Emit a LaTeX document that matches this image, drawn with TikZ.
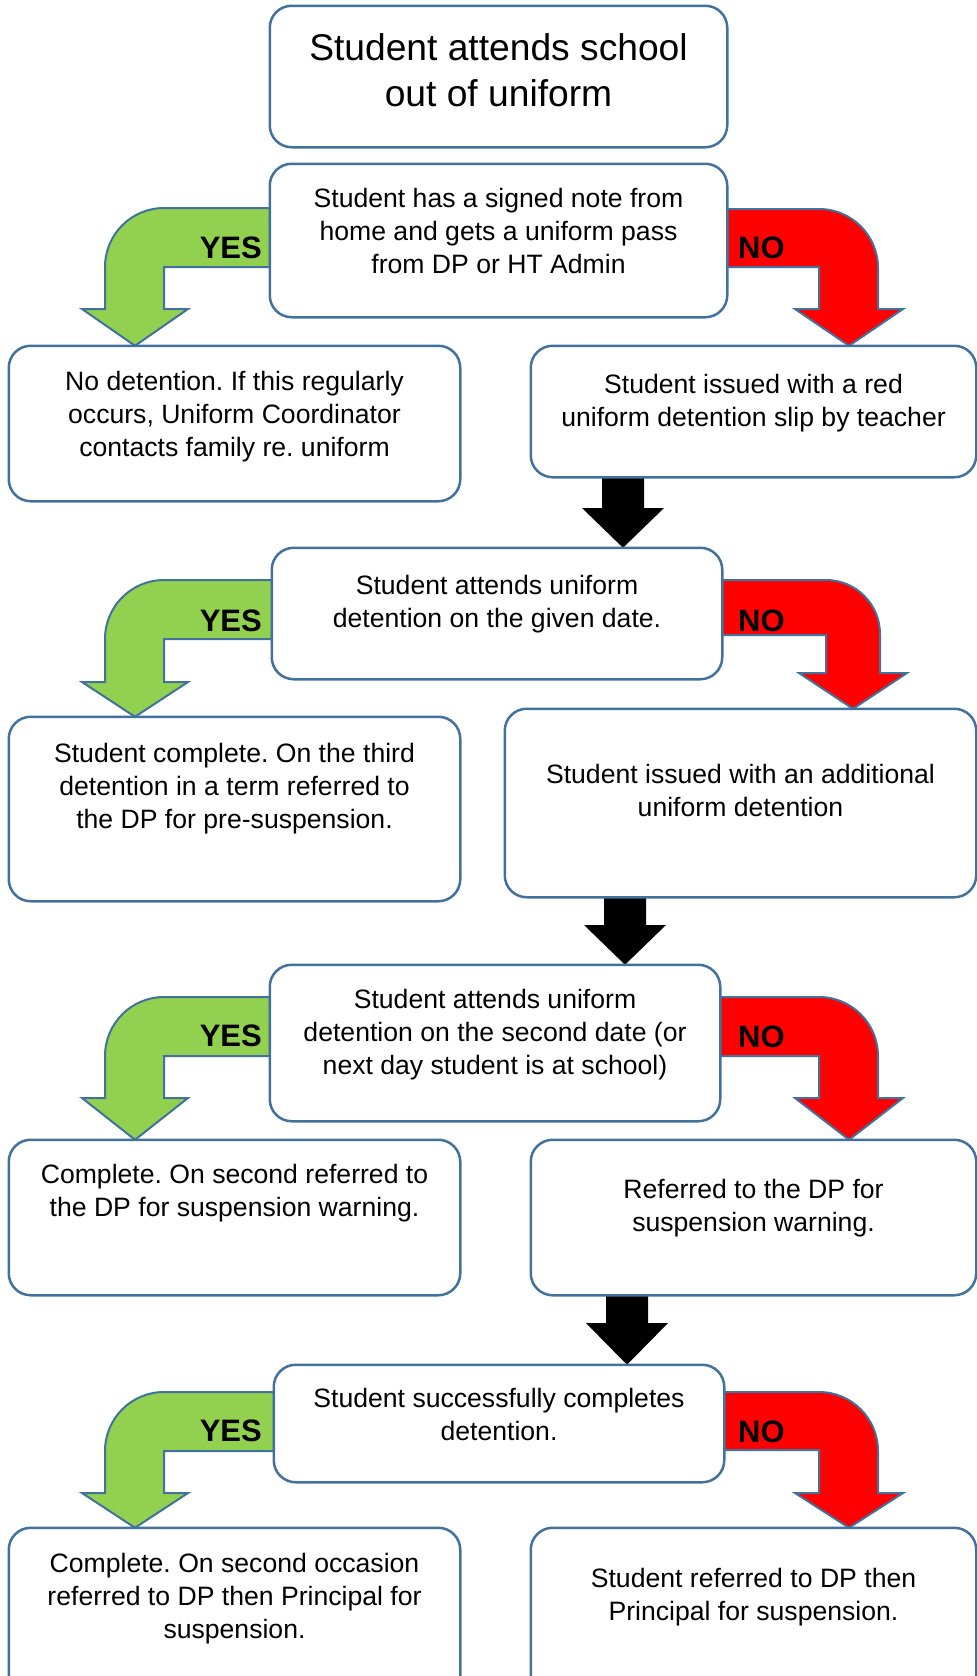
\documentclass[tikz,border=0pt]{standalone}
\usepackage{fontspec}
\setmainfont{Liberation Sans}
\frenchspacing
\definecolor{edge}{HTML}{41719C}
\definecolor{yesgreen}{HTML}{92D050}
\definecolor{nored}{HTML}{FF0000}
% #1 src, #2 dst, #3 band top, #4 band bottom, #5 head base, #6 inner x, #7 outer x, #8 tip x
\newcommand\yesarr[8]{%
  \draw[yesarrow] (#1.west |- 0,#3) -- (#6,#3)
    .. controls ({#6-0.5523*(#6-#7)},#3) and (#7,{#3+0.4477*(#6-#7)}) .. (#7,{#3+#6-#7})
    -- (#7,#5) -- ({#8-53},#5) -- (#8,0 |- #2.north) -- ({#8+53},#5) -- (#6,#5)
    -- (#6,#4) -- (#1.west |- 0,#4) -- cycle;}
\newcommand\noarr[8]{%
  \draw[noarrow] (#1.east |- 0,#3) -- (#6,#3)
    .. controls ({#6+0.5523*(#7-#6)},#3) and (#7,{#3+0.4477*(#7-#6)}) .. (#7,{#3+#7-#6})
    -- (#7,#5) -- ({#8+54},#5) -- (#8,0 |- #2.north) -- ({#8-54},#5) -- (#6,#5)
    -- (#6,#4) -- (#1.east |- 0,#4) -- cycle;}
% #1 src, #2 dst, #3 center x, #4 head base
\newcommand\blkarr[4]{%
  \fill[blkarrow] ({#3-21},0 |- #1.south) -- ({#3-21},#4) -- ({#3-41},#4) -- (#3,0 |- #2.north)
    -- ({#3+41},#4) -- ({#3+21},#4) -- ({#3+21},0 |- #1.south) -- cycle;}
\begin{document}
\begin{tikzpicture}[x=1pt,y=-1pt,
  box/.style={draw=edge, line width=2.5pt, rounded corners=22pt, fill=white, inner sep=0pt},
  txt/.style={anchor=north, align=center, inner sep=0pt, font={\fontsize{26.6}{33}\selectfont}},
  ttl/.style={anchor=north, align=center, inner sep=0pt, font={\fontsize{37.2}{46}\selectfont}},
  yeslbl/.style={anchor=base east, inner sep=0pt, font={\fontsize{31}{31}\selectfont\bfseries}},
  nolbl/.style={anchor=base west, inner sep=0pt, font={\fontsize{31}{31}\selectfont\bfseries}},
  yesarrow/.style={fill=yesgreen, draw=edge, line width=2pt, line join=miter},
  noarrow/.style={fill=nored, draw=edge, line width=2pt, line join=miter},
  blkarrow/.style={fill=black}]
\useasboundingbox (0,0) rectangle (977,1676);
\clip (0,0) rectangle (977,1676);

% boxes (positions only)
\path
  node[box, minimum width=455pt, minimum height=139pt] (b1) at (498.5,76.5) {}
  node[box, minimum width=455pt, minimum height=151pt] (b2) at (498.5,240.5) {}
  node[box, minimum width=449pt, minimum height=153pt] (b3l) at (234.5,423.5) {}
  node[box, minimum width=443pt, minimum height=129pt] (b3r) at (753.5,411.5) {}
  node[box, minimum width=448pt, minimum height=129pt] (b4) at (497,613.5) {}
  node[box, minimum width=449pt, minimum height=182pt] (b5l) at (234.5,809) {}
  node[box, minimum width=469pt, minimum height=186pt] (b5r) at (740.5,803) {}
  node[box, minimum width=448pt, minimum height=154pt] (b6) at (495,1043) {}
  node[box, minimum width=449pt, minimum height=153pt] (b7l) at (234.5,1217.5) {}
  node[box, minimum width=443pt, minimum height=153pt] (b7r) at (753.5,1217.5) {}
  node[box, minimum width=448pt, minimum height=115pt] (b8) at (499,1423.5) {}
  node[box, minimum width=449pt, minimum height=171pt] (b9l) at (234.5,1614.5) {}
  node[box, minimum width=443pt, minimum height=171pt] (b9r) at (753.5,1614.5) {};

% bent arrows
\yesarr{b2}{b3l}{208}{267}{309}{164}{105}{135}
\noarr{b2}{b3r}{209}{267}{309}{819}{878}{849}
\yesarr{b4}{b5l}{580}{639}{682}{164}{105}{135}
\noarr{b4}{b5r}{580}{635}{673}{826}{880}{853}
\yesarr{b6}{b7l}{997}{1056}{1098}{164}{105}{135}
\noarr{b6}{b7r}{997}{1056}{1098}{819}{878}{849}
\yesarr{b8}{b9l}{1392}{1451}{1493}{164}{105}{135}
\noarr{b8}{b9r}{1392}{1450}{1493}{819}{878}{849}

% black arrows
\blkarr{b3r}{b4}{623}{508}
\blkarr{b5r}{b6}{625}{925}
\blkarr{b7r}{b8}{627}{1323}

% redraw boxes on top
\foreach \b in {b1,b2,b3l,b3r,b4,b5l,b5r,b6,b7l,b7r,b8,b9l,b9r}{
  \draw[draw=edge, line width=2.5pt, rounded corners=22pt, fill=white]
    (\b.south west) rectangle (\b.north east);
}

% texts
\node[ttl] (t1) at (b1 |- 0,27.8) {\strut Student attends school\\ out of uniform};
\node[txt] (t2) at (b2 |- 0,183.9) {\strut Student has a signed note from\\ home and gets a uniform pass\\ from DP or HT Admin};
\node[txt] (t3l) at (b3l |- 0,366.9) {\strut No detention. If this regularly\\ occurs, Uniform Coordinator\\ contacts family re. uniform};
\node[txt] (t3r) at (b3r |- 0,369.9) {\strut Student issued with a red\\ uniform detention slip by teacher};
\node[txt] (t4) at (b4 |- 0,570.9) {\strut Student attends uniform\\ detention on the given date.};
\node[txt] (t5l) at (b5l |- 0,738.9) {\strut Student complete. On the third\\ detention in a term referred to\\ the DP for pre-suspension.};
\node[txt] (t5r) at (b5r |- 0,759.9) {\strut Student issued with an additional\\ uniform detention};
\node[txt] (t6) at (b6 |- 0,984.9) {\strut Student attends uniform\\ detention on the second date (or\\ next day student is at school)};
\node[txt] (t7l) at (b7l |- 0,1159.9) {\strut Complete. On second referred to\\ the DP for suspension warning.};
\node[txt] (t7r) at (b7r |- 0,1174.9) {\strut Referred to the DP for\\ suspension warning.};
\node[txt] (t8) at (b8 |- 0,1383.9) {\strut Student successfully completes\\ detention.};
\node[txt] (t9l) at (b9l |- 0,1548.9) {\strut Complete. On second occasion\\ referred to DP then Principal for\\ suspension.};
\node[txt] (t9r) at (b9r |- 0,1563.9) {\strut Student referred to DP then\\ Principal for suspension.};

% labels
\node[yeslbl] (y1) at (262,258) {YES};
\node[yeslbl] (y2) at (262,631) {YES};
\node[yeslbl] (y3) at (262,1046) {YES};
\node[yeslbl] (y4) at (262,1441) {YES};
\node[nolbl] (n1) at (738,258) {NO};
\node[nolbl] (n2) at (738,631) {NO};
\node[nolbl] (n3) at (738,1047) {NO};
\node[nolbl] (n4) at (738,1442) {NO};
\end{tikzpicture}
\end{document}
